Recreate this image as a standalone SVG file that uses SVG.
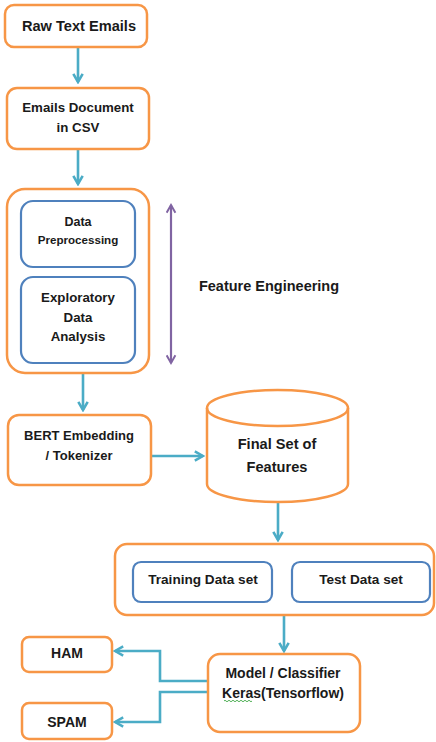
<svg xmlns="http://www.w3.org/2000/svg" width="436" height="742" viewBox="0 0 436 742">
<defs>
<marker id="ah" viewBox="0 0 10 10" refX="8" refY="5" markerWidth="4.5" markerHeight="4.5" orient="auto" markerUnits="strokeWidth">
<polyline points="1,1 8,5 1,9" fill="none" stroke="#4BACC6" stroke-width="2.2" stroke-linejoin="miter"/>
</marker>
<marker id="ap" viewBox="0 0 10 10" refX="8" refY="5" markerWidth="5" markerHeight="5" orient="auto-start-reverse" markerUnits="strokeWidth">
<polyline points="1,1 8,5 1,9" fill="none" stroke="#8064A2" stroke-width="1.8"/>
</marker>
</defs>
<style>
.o{fill:#fff;stroke:#F79646;stroke-width:2.5}
.b{fill:#fff;stroke:#4F81BD;stroke-width:2.2}
.t{font-family:"Liberation Sans",Arial,sans-serif;font-weight:bold;fill:#1a1a1a;text-anchor:middle}
.c{fill:none;stroke:#4BACC6;stroke-width:2.6;marker-end:url(#ah)}
</style>
<rect width="436" height="742" fill="#fff"/>
<g id="connectors">
<line class="c" x1="78" y1="47" x2="78" y2="82"/>
<line class="c" x1="78" y1="149" x2="78" y2="184"/>
<line class="c" x1="83" y1="374" x2="83" y2="410"/>
<line class="c" x1="151" y1="456" x2="203" y2="456"/>
<line class="c" x1="278" y1="503" x2="278" y2="540"/>
<line class="c" x1="284" y1="616" x2="284" y2="651"/>
<polyline class="c" points="208,681 160,681 160,651 115,651"/>
<polyline class="c" points="208,692 160,692 160,722 115,722"/>
<line x1="171" y1="205" x2="171" y2="363" stroke="#8064A2" stroke-width="2.2" marker-start="url(#ap)" marker-end="url(#ap)"/>
</g>
<g id="raw">
<rect class="o" x="5" y="5" width="142" height="42" rx="9"/>
<text class="t" x="79" y="31" font-size="14.6">Raw Text Emails</text>
</g>
<g id="csv">
<rect class="o" x="7" y="88" width="142" height="61" rx="10"/>
<text class="t" x="78" y="112" font-size="13.3">Emails Document</text>
<text class="t" x="78" y="132" font-size="13.3">in CSV</text>
</g>
<g id="fe-group">
<rect class="o" x="7" y="189" width="142" height="184" rx="18"/>
</g>
<g id="prep">
<rect class="b" x="21" y="201" width="114" height="66" rx="12"/>
<text class="t" x="78" y="226" font-size="12.5">Data</text>
<text class="t" x="78" y="244" font-size="11.6">Preprocessing</text>
</g>
<g id="eda">
<rect class="b" x="21" y="277" width="114" height="86" rx="12"/>
<text class="t" x="78" y="302" font-size="13.3">Exploratory</text>
<text class="t" x="78" y="322" font-size="13.3">Data</text>
<text class="t" x="78" y="341" font-size="13.3">Analysis</text>
</g>
<g id="fe-label">
<text class="t" x="269" y="291" font-size="14.5">Feature Engineering</text>
</g>
<g id="bert">
<rect class="o" x="8" y="415" width="143" height="70" rx="11"/>
<text class="t" x="79" y="440" font-size="13">BERT Embedding</text>
<text class="t" x="79" y="460" font-size="13">/ Tokenizer</text>
</g>
<g id="features">
<path class="o" d="M207,408 A70.5,18 0 0 1 348,408 L348,484 A70.5,18 0 0 1 207,484 Z"/>
<path d="M207,408 A70.5,18 0 0 0 348,408" fill="none" stroke="#F79646" stroke-width="2.5"/>
<text class="t" x="277" y="449" font-size="14.6">Final Set of</text>
<text class="t" x="277" y="472" font-size="14.6">Features</text>
</g>
<g id="split">
<rect class="o" x="115" y="544" width="319" height="71" rx="12"/>
</g>
<g id="train">
<rect class="b" x="133" y="562" width="139" height="40" rx="8"/>
<text class="t" x="203" y="584" font-size="13.6">Training Data set</text>
</g>
<g id="test">
<rect class="b" x="292" y="562" width="138" height="40" rx="8"/>
<text class="t" x="361" y="584" font-size="13.6">Test Data set</text>
</g>
<g id="model">
<rect class="o" x="208" y="654" width="152" height="78" rx="12"/>
<text class="t" x="283" y="678" font-size="14">Model / Classifier</text>
<text class="t" x="283" y="698" font-size="14">Keras(Tensorflow)</text>
<path d="M224,701 q1,-1.5 2,0 t2,0 t2,0 t2,0 t2,0 t2,0 t2,0 t2,0 t2,0 t2,0 t2,0 t2,0 t2,0 t2,0" fill="none" stroke="#3ea845" stroke-width="0.9"/>
</g>
<g id="ham">
<rect class="o" x="22" y="637" width="90" height="35" rx="7"/>
<text class="t" x="67" y="658" font-size="14">HAM</text>
</g>
<g id="spam">
<rect class="o" x="22" y="703" width="90" height="36" rx="7"/>
<text class="t" x="67" y="727" font-size="14">SPAM</text>
</g>
</svg>
